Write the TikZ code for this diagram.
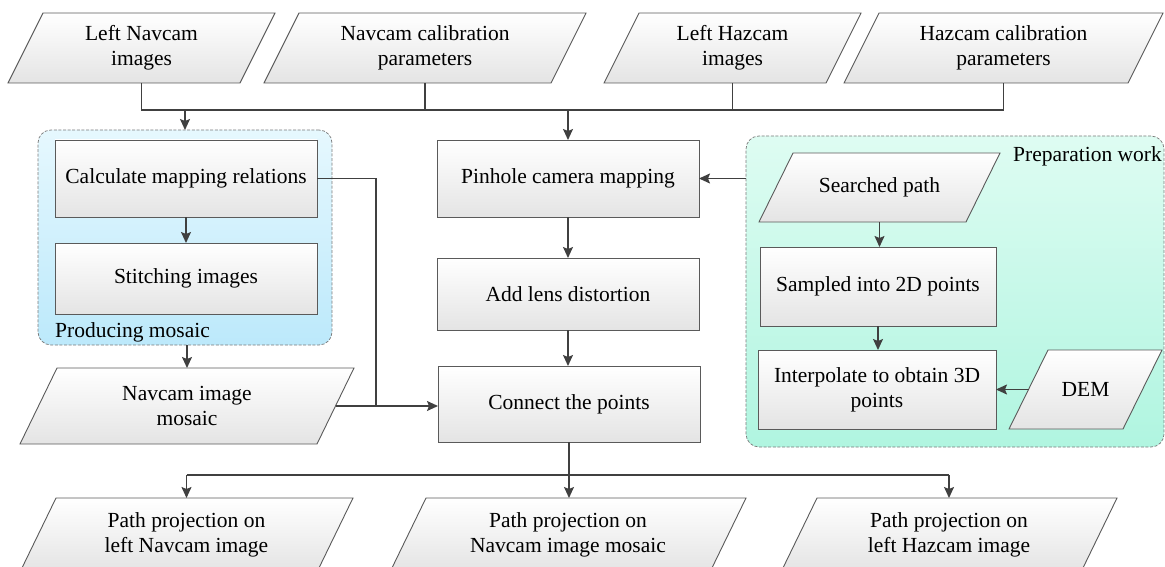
\documentclass[tikz,border=0pt]{standalone}
\usepackage{fontspec}
\setmainfont{Liberation Serif}
\usetikzlibrary{arrows.meta}
\pgfdeclarelayer{groups}
\pgfdeclarelayer{shapes}
\pgfsetlayers{groups,shapes,main}

\definecolor{edgegray}{HTML}{5A5A5A}
\definecolor{linegray}{HTML}{404040}
\definecolor{boxbot}{HTML}{E4E4E4}
\definecolor{bluetop}{RGB}{230,248,254}
\definecolor{bluebot}{RGB}{188,233,251}
\definecolor{greentop}{RGB}{222,252,242}
\definecolor{greenbot}{RGB}{176,245,224}
\definecolor{grpedge}{HTML}{7A7A7A}

\newcommand{\flowfont}{\fontsize{21.5}{25}\selectfont}

\tikzset{
  ptext/.style={inner sep=0pt, outer sep=0pt, align=center, font=\flowfont},
  pshade/.style={draw=edgegray, line width=0.9pt, top color=white, bottom color=boxbot},
  rbox/.style={draw=edgegray, line width=0.9pt, top color=white, bottom color=boxbot,
    inner sep=0pt, outer sep=0pt, align=center, font=\flowfont},
  grpbox/.style={draw=grpedge, line width=0.7pt, dash pattern=on 3pt off 1.6pt,
    rounded corners=13pt, inner sep=0pt, outer sep=0pt},
  cline/.style={draw=linegray, line width=1.4pt},
  arr/.style={cline, -{Stealth[length=11pt, width=10pt, inset=2pt]}},
  lbl/.style={inner sep=0pt, font=\flowfont}
}

% name, cx, cy, width at mid height, height, slant, text
\newcommand{\pgramnode}[7]{%
  \node[ptext, minimum width=#4, minimum height=#5] (#1) at (#2,#3) {#7};
  \begin{pgfonlayer}{shapes}
    \path[pshade] ([xshift=#6/2]#1.north west) -- ([xshift=#6/2]#1.north east)
      -- ([xshift=-#6/2]#1.south east) -- ([xshift=-#6/2]#1.south west) -- cycle;
  \end{pgfonlayer}
}

\begin{document}
\begin{tikzpicture}[x=1pt, y=-1pt]
\useasboundingbox (0,0) rectangle (1165,567);
\clip (0,0) rectangle (1165,567);

% group frames
\begin{pgfonlayer}{groups}
  \node[grpbox, top color=bluetop, bottom color=bluebot,
        minimum width=294, minimum height=215] (blue) at (185,237.5) {};
  \node[grpbox, top color=greentop, bottom color=greenbot,
        minimum width=418, minimum height=311] (prep) at (955,291.5) {};
\end{pgfonlayer}
\node[lbl, anchor=base west] (lblue) at (55,337) {Producing mosaic};
\node[lbl, anchor=base east] (lprep) at (1162,162) {Preparation work};

% input data
\pgramnode{p1}{141.5}{48}{232}{70}{35}{Left Navcam\\images}
\pgramnode{p2}{425}{48}{287}{70}{35}{Navcam calibration\\parameters}
\pgramnode{p3}{732.5}{48}{222}{70}{35}{Left Hazcam\\images}
\pgramnode{p4}{1003.5}{48}{284}{70}{35}{Hazcam calibration\\parameters}

% mosaic branch
\node[rbox, minimum width=262, minimum height=77] (calc) at (186,178.5) {Calculate mapping relations};
\node[rbox, minimum width=262, minimum height=71] (stitch) at (186,278.5) {Stitching images};
\pgramnode{mos}{187}{406}{297}{76}{37}{Navcam image\\mosaic}

% projection chain
\node[rbox, minimum width=262, minimum height=77] (pin) at (568,178.5) {Pinhole camera mapping};
\node[rbox, minimum width=262, minimum height=72] (lens) at (568,294) {Add lens distortion};
\node[rbox, minimum width=262, minimum height=76] (conn) at (569,404) {Connect the points};

% preparation work
\pgramnode{srch}{879.5}{187.5}{207}{69}{34}{Searched path}
\node[rbox, minimum width=236, minimum height=79] (samp) at (878,286.5) {Sampled into 2D points};
\node[rbox, minimum width=238, minimum height=79] (interp) at (877,389.5) {Interpolate to obtain 3D\\points};
\pgramnode{dem}{1085.5}{389.5}{114}{79}{39}{DEM}

% outputs
\pgramnode{b1}{186.5}{535}{297}{74}{36}{Path projection on\\left Navcam image}
\pgramnode{b2}{568}{535}{320}{74}{36}{Path projection on\\Navcam image mosaic}
\pgramnode{b3}{949}{535}{300}{74}{36}{Path projection on\\left Hazcam image}

% connectors
\coordinate (bus) at (0,110);
\coordinate (bbus) at (0,475);
\coordinate (join) at (376,406);

\draw[cline] (p1.south) -- (p1.south |- bus) -- (p4.south |- bus) -- (p4.south);
\draw[cline] (p2.south) -- (p2.south |- bus);
\draw[cline] (p3.south) -- (p3.south |- bus);
\draw[arr] (blue.north |- bus) -- (blue.north);
\draw[arr] (pin.north |- bus) -- (pin.north);

\draw[arr] (calc.south) -- (stitch.north);
\draw[arr] (blue.south -| mos.north) -- (mos.north);
\draw[cline] (calc.east) -| (join);
\draw[arr] (mos.east) -- (mos.east -| conn.west);

\draw[arr] (pin.south) -- (lens.north);
\draw[arr] (lens.south) -- (lens.south |- conn.north);
\draw[arr] (prep.west |- pin.east) -- (pin.east);

\draw[arr] (srch.south) -- (srch.south |- samp.north);
\draw[arr] (samp.south) -- (samp.south |- interp.north);
\draw[arr] (dem.west) -- (dem.west -| interp.east);

\draw[arr] (conn.south) -- (conn.south |- b2.north);
\draw[cline] (b1.north |- bbus) -- (b3.north |- bbus);
\draw[arr] (b1.north |- bbus) -- (b1.north);
\draw[arr] (b3.north |- bbus) -- (b3.north);
\end{tikzpicture}
\end{document}
